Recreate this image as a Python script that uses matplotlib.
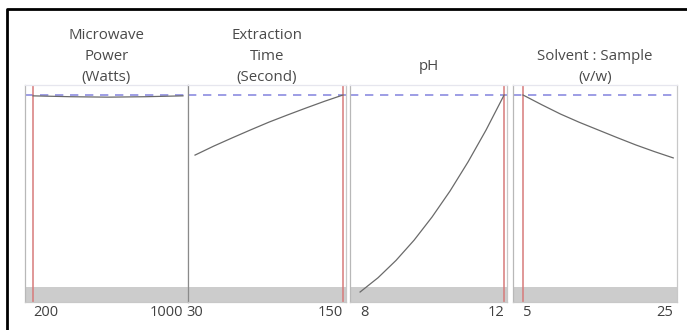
import matplotlib.pyplot as plt
from matplotlib.lines import Line2D

# values (y axis in % of panel height)
power = [200, 300, 400, 500, 600, 700, 800, 900, 1000]
power_y = [95.0, 94.8, 94.6, 94.5, 94.4, 94.5, 94.6, 94.8, 95.0]
time_s = [30, 45, 60, 75, 90, 105, 120, 135, 150]
time_y = [67.7, 71.8, 75.6, 79.3, 82.9, 86.2, 89.4, 92.5, 95.4]
ph = [8, 8.5, 9, 9.5, 10, 10.5, 11, 11.5, 12]
ph_y = [4.6, 11.2, 19.2, 28.5, 39.2, 51.2, 64.6, 79.3, 95.4]
ratio = [5, 7.5, 10, 12.5, 15, 17.5, 20, 22.5, 25]
ratio_y = [95.4, 90.9, 86.6, 82.8, 79.3, 75.8, 72.4, 69.3, 66.4]

titles = ["Microwave\nPower\n(Watts)", "Extraction\nTime\n(Second)", "pH",
          "Solvent : Sample\n(v/w)"]
tick_vals = [(200, 1000), (30, 150), (8, 12), (5, 25)]
current = [200, 150, 12, 5]
best_y = 95.4
band_top = 6.9

xs = [power, time_s, ph, ratio]
ys = [power_y, time_y, ph_y, ratio_y]
xlims = [(157, 1027), (24.3, 152.4), (7.72, 12.08), (3.67, 25.5)]
# panel edges in pixels (left, right)
edges = [(25, 188), (188, 346), (350, 507), (513, 677)]
title_pad = [2, 2, 11, 2]
tick_ha = [("left", "right"), ("center", "right"), ("left", "right"), ("left", "right")]

W, H = 687, 330
fig = plt.figure(figsize=(W / 100, H / 100), dpi=100)
plt.rcParams['font.family'] = ['Open Sans', 'DejaVu Sans']

top_px, bot_px = 85, 302
for i in range(4):
    l, r = edges[i]
    ax = fig.add_axes([l / W, (H - bot_px) / H, (r - l) / W, (bot_px - top_px) / H])
    ax.set_xlim(xlims[i])
    ax.set_ylim(0, 100)
    ax.axhspan(0, band_top, color="#cccccc", lw=0)
    ax.axhline(best_y, color="#8c8ce0", lw=1.2, ls=(0, (5, 4)))
    ax.axvline(current[i], color="#d77a7a", lw=1.1)
    ax.plot(xs[i], ys[i], color="#6a6a6a", lw=0.9)
    ax.set_yticks([])
    ax.set_xticks(tick_vals[i])
    ax.set_xticklabels([str(v) for v in tick_vals[i]], fontsize=10.5, color="#404040")
    for lab, ha in zip(ax.get_xticklabels(), tick_ha[i]):
        lab.set_ha(ha)
    ax.tick_params(axis="x", length=0, pad=2)
    ax.spines["left"].set_color("#8a8a8a" if i == 1 else "#b8b8b8")
    ax.spines["right"].set_color("#c8c8c8")
    ax.spines["top"].set_color("#e6e6ee")
    ax.spines["bottom"].set_color("#c8c8c8")
    for s in ax.spines.values():
        s.set_linewidth(0.9)
    ax.set_title(titles[i], fontsize=10.8, color="#4a4a4a", pad=title_pad[i],
                 linespacing=1.55)

# black frame of the screenshot
fig.add_artist(Line2D([7 / W, 7 / W, 1], [0, 1 - 9 / H, 1 - 9 / H],
                      color="black", lw=2, transform=fig.transFigure))

fig.savefig("out.png", dpi=100)
